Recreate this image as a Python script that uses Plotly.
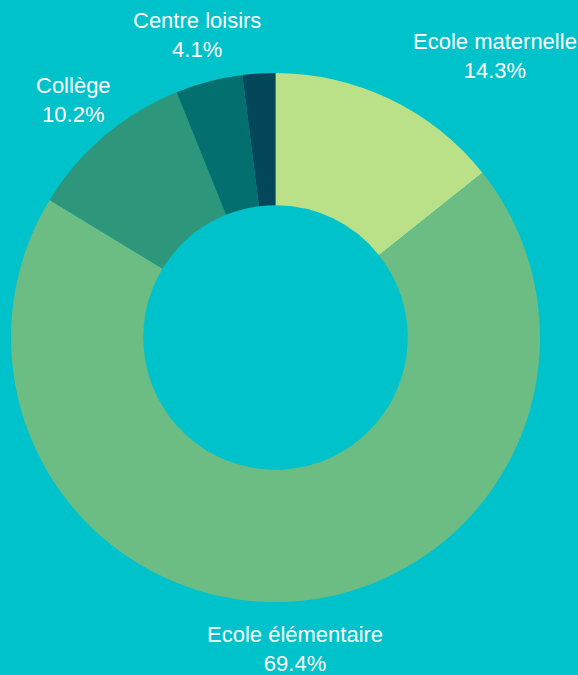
import math
import plotly.graph_objects as go

labels = ["Ecole maternelle", "Ecole élémentaire", "Collège", "Centre loisirs", "Autre"]
values = [14.3, 69.4, 10.2, 4.1, 2.0]
colors = ["#BAE187", "#6BBD84", "#2E967B", "#03706F", "#04475A"]
show_label = [True, True, True, True, False]
label_anchor = ["left", "center", "center", "center", "center"]

W, H = 578, 675
dom_x = [11 / W, 540 / W]
dom_y = [1 - 602 / H, 1 - 73 / H]

fig = go.Figure(go.Pie(
    labels=labels,
    values=values,
    hole=0.5,
    sort=False,
    direction="clockwise",
    rotation=0,
    marker=dict(colors=colors, line=dict(width=0)),
    textinfo="none",
    hoverinfo="label+percent",
    showlegend=False,
    domain=dict(x=dom_x, y=dom_y),
    automargin=False,
))

# Outside labels placed at the mid-angle of each slice
cx = (dom_x[0] + dom_x[1]) / 2 * W
cy = (1 - (dom_y[0] + dom_y[1]) / 2) * H
outer_r = (dom_x[1] - dom_x[0]) * W / 2
label_r = outer_r * 1.18
total = sum(values)
cum = 0.0
for lab, v, show, anc in zip(labels, values, show_label, label_anchor):
    mid = (cum + v / 2) / total * 2 * math.pi
    cum += v
    if not show:
        continue
    px = cx + label_r * math.sin(mid)
    py = cy - label_r * math.cos(mid)
    fig.add_annotation(
        x=px / W, y=1 - py / H, xref="paper", yref="paper",
        text=f"{lab}<br>{v / total * 100:.1f}%",
        showarrow=False, xanchor=anc, yanchor="middle", align="center",
        font=dict(family="Liberation Sans, Arial, sans-serif", size=22, color="white"),
    )

fig.update_layout(
    width=W, height=H,
    margin=dict(l=0, r=0, t=0, b=0),
    paper_bgcolor="#00C2CB",
    plot_bgcolor="#00C2CB",
)

fig.write_html(
    "out.html",
    config={"displayModeBar": False},
    post_script="document.body.style.margin='0';document.body.style.background='#00C2CB';",
)
